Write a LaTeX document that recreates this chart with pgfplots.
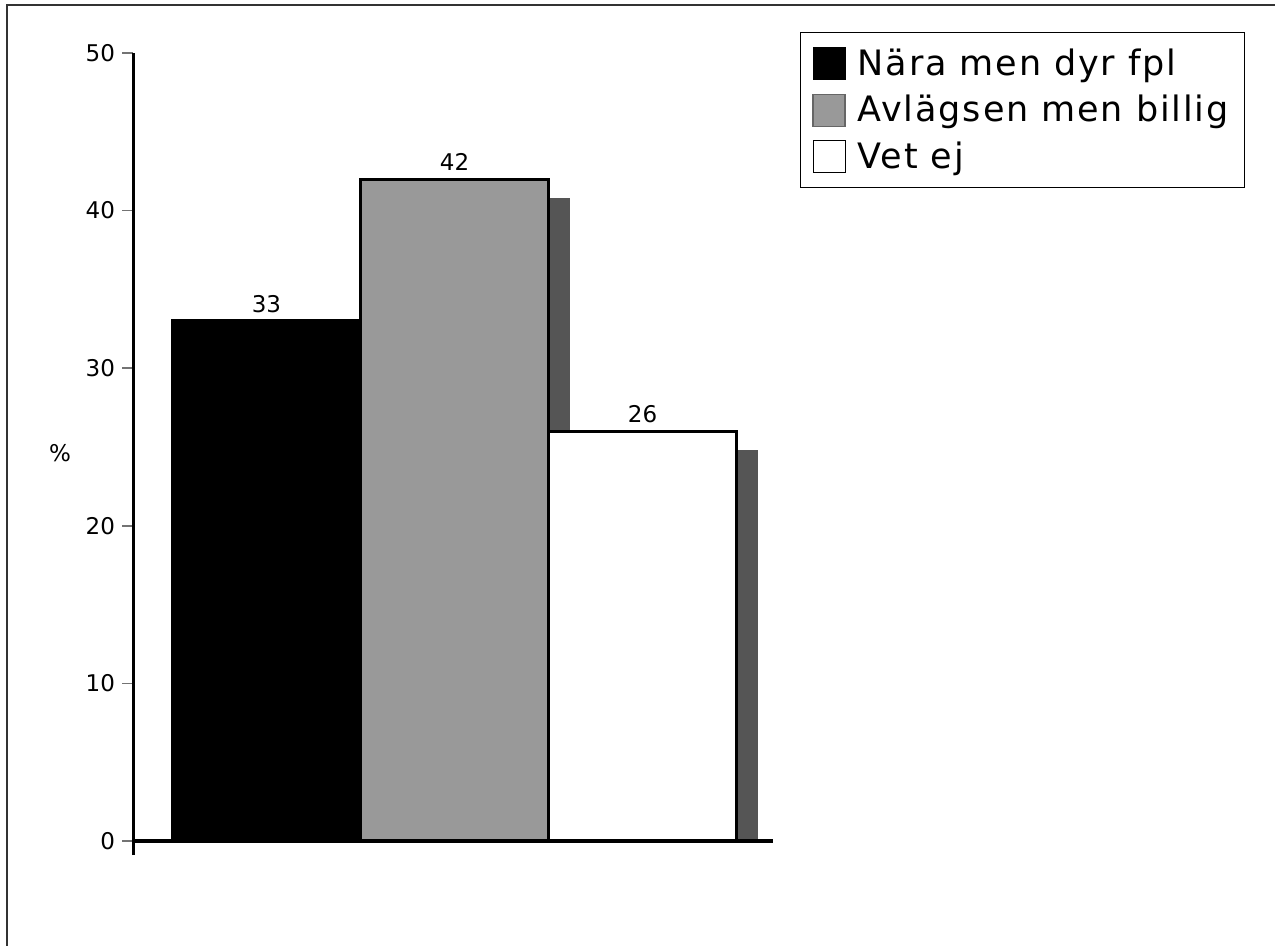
\documentclass[border=0pt]{standalone}
\usepackage{fontspec}
\setmainfont{DejaVu Sans}
\newfontfamily\legfont[LetterSpace=5.3]{DejaVu Sans}
\usepackage{pgfplots}
\pgfplotsset{compat=1.18}
\definecolor{bargray}{HTML}{999999}
\definecolor{shadowgray}{HTML}{555555}
\definecolor{legedge}{HTML}{666666}

\begin{document}
\begin{tikzpicture}
\useasboundingbox (0,0) rectangle (637.5pt,473pt);
% frame of the original picture (top and left edge only)
\draw[line width=0.6pt, black!80] (3.5pt,0) -- (3.5pt,470.5pt) -- (637.5pt,470.5pt);
\begin{axis}[
    at={(66.5pt,45.4pt)}, anchor=south west,
    scale only axis, width=320pt, height=401.1pt,
    xmin=0.29, xmax=3.694, ymin=-0.9, ymax=50,
    axis x line=middle, axis y line=left,
    x axis line style={-, line width=2pt},
    y axis line style={-, line width=1.5pt},
    axis on top,
    xtick=\empty,
    ytick={0,10,20,30,40,50},
    ytick pos=left, tick align=outside,
    major tick length=5.5pt,
    tick style={line width=0.8pt, black!55},
    tick label style={font=\fontsize{11.5}{13}\selectfont},
    /pgf/number format/assume math mode=true,
    ybar, bar width=1,
    every node near coord/.append style={font=\fontsize{11.5}{13}\selectfont, black},
    legend cell align=left,
    legend style={at={(axis description cs:1.042,1.026)}, anchor=north west,
        draw=black, line width=0.6pt, inner xsep=6pt, inner ysep=6pt,
        row sep=4.5pt, column sep=4pt,
        font=\fontsize{17.5}{19}\selectfont\legfont},
]
% shadows behind the bars
\addplot[fill=shadowgray, draw=none, bar shift=0pt, forget plot] coordinates {(1.112,31.8)};
\addplot[fill=shadowgray, draw=none, bar shift=0pt, forget plot] coordinates {(2.112,40.8)};
\addplot[fill=shadowgray, draw=none, bar shift=0pt, forget plot] coordinates {(3.112,24.8)};

\addplot[fill=black, draw=black, line width=1.5pt, bar shift=0pt, nodes near coords,
    legend image code/.code={\draw[fill=black, draw=black, line width=0.5pt] (0pt,-8pt) rectangle (16pt,8pt);}]
    coordinates {(1,33)};
\addlegendentry{Nära men dyr fpl}
\addplot[fill=bargray, draw=black, line width=1.5pt, bar shift=0pt, nodes near coords,
    legend image code/.code={\draw[fill=bargray, draw=legedge, line width=0.6pt] (0pt,-8pt) rectangle (16pt,8pt);}]
    coordinates {(2,42)};
\addlegendentry{Avlägsen men billig}
\addplot[fill=white, draw=black, line width=1.5pt, bar shift=0pt, nodes near coords,
    legend image code/.code={\draw[fill=white, draw=black, line width=0.5pt] (0pt,-8pt) rectangle (16pt,8pt);}]
    coordinates {(3,26)};
\addlegendentry{Vet ej}
\end{axis}
\node[font=\fontsize{11.5}{13}\selectfont] at (30pt,246.5pt) {\%};
\end{tikzpicture}
\end{document}
